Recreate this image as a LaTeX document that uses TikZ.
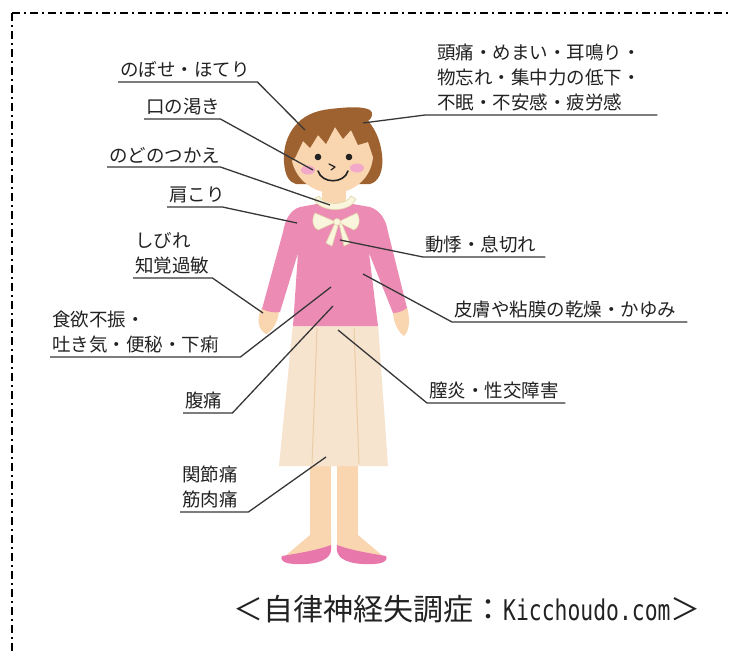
\documentclass[tikz,border=0pt]{standalone}
\usepackage{fontspec}
\setmainfont{Noto Sans CJK JP}
\newfontfamily\capmono[FakeStretch=0.75]{DejaVu Sans Mono}
\usepackage{tikz}

\definecolor{hair}{RGB}{158,98,48}
\definecolor{skin}{RGB}{250,214,176}
\definecolor{blouse}{RGB}{236,140,180}
\definecolor{cheek}{RGB}{242,168,200}
\definecolor{collar}{RGB}{250,246,222}
\definecolor{collaredge}{RGB}{226,214,170}
\definecolor{skirt}{RGB}{246,228,206}
\definecolor{pleat}{RGB}{236,204,166}
\definecolor{shoe}{RGB}{232,120,172}
\definecolor{ink}{RGB}{34,34,34}
\definecolor{leadgray}{RGB}{55,55,55}

\tikzset{
  symptom/.style={anchor=south west, inner xsep=2pt, inner ysep=4pt, align=left,
    font=\fontsize{18.5}{25}\selectfont, text=ink},
  leader/.style={draw=leadgray, line width=1.3pt},
  frame/.style={draw=black, line width=2.6pt, dash pattern=on 8pt off 4pt on 2pt off 4pt},
}

\begin{document}
\begin{tikzpicture}[x=1pt,y=-1pt]
    \fill[white] (0,0) rectangle (730,651);
    \useasboundingbox (0,0) rectangle (730,651);
    % --- FRAME ---
    \draw[frame] (12,13) -- (730,13);
    \draw[frame] (12,13) -- (12,651);

    % --- FIGURE ---
    % legs and feet
    \fill[skin] (310,462) rectangle (331,545);
    \fill[skin] (337,462) rectangle (358,545);
    \fill[skin] (310,535) -- (331,535) -- (331,548) -- (284,557) -- cycle;
    \fill[skin] (358,535) -- (337,535) -- (337,548) -- (384,557) -- cycle;
    \fill[shoe] (331,545) .. controls (333,556) and (325,563) .. (305,564)
        .. controls (288,565) and (279,562) .. (282,556)
        .. controls (300,553) and (318,550) .. (331,545) -- cycle;
    \fill[shoe] (337,545) .. controls (335,556) and (343,563) .. (363,564)
        .. controls (380,565) and (389,562) .. (386,556)
        .. controls (368,553) and (350,550) .. (337,545) -- cycle;
    % skirt
    \fill[skirt] (293,324) -- (378,324) -- (388,466) -- (279,466) -- cycle;
    \draw[pleat, line width=1pt] (317,328) -- (312,464);
    \draw[pleat, line width=1pt] (354,328) -- (359,464);
    % hands
    \fill[skin] (262,308) .. controls (256,318) and (258,330) .. (266,334)
        .. controls (272,332) and (278,322) .. (279,311) -- cycle;
    \fill[skin] (393,311) .. controls (393,322) and (398,332) .. (404,336)
        .. controls (410,330) and (410,318) .. (407,307) -- cycle;
    % back hair and neck
    \fill[hair] (330,110) .. controls (300,110) and (282,135) .. (284,162)
        .. controls (285,176) and (289,182) .. (296,184) -- (370,184)
        .. controls (378,182) and (384,172) .. (382,155)
        .. controls (380,135) and (370,118) .. (355,112) -- cycle;
    \fill[skin] (322,185) rectangle (346,210);
    % blouse
    \fill[blouse] (322,203) -- (300,207) .. controls (290,210) and (285,220) .. (283,232)
        -- (262,309) .. controls (268,312) and (275,313) .. (280,312) -- (298,253)
        -- (293,326) -- (378,326) -- (369,253) -- (393,313)
        .. controls (398,313) and (403,311) .. (407,308) -- (388,232)
        .. controls (386,220) and (381,211) .. (370,207) -- (347,203) -- cycle;
    % collar and bow
    \filldraw[fill=collar, draw=collaredge, line width=0.6pt] (314,199)
        .. controls (320,213) and (350,213) .. (356,199) -- (351,196)
        .. controls (346,206) and (324,206) .. (319,196) -- cycle;
    \filldraw[fill=collar, draw=collaredge, line width=0.6pt]
        (335,223) -- (326,243) -- (332,246) -- (338,226) -- cycle;
    \filldraw[fill=collar, draw=collaredge, line width=0.6pt]
        (339,223) -- (344,246) -- (350,243) -- (341,222) -- cycle;
    \filldraw[fill=collar, draw=collaredge, line width=0.6pt]
        (336,222) -- (315,213) .. controls (311,220) and (313,228) .. (318,230) -- cycle;
    \filldraw[fill=collar, draw=collaredge, line width=0.6pt]
        (338,222) -- (357,213) .. controls (361,220) and (359,228) .. (354,230) -- cycle;
    \filldraw[fill=collar, draw=collaredge, line width=0.6pt] (337,222) circle (3.5);
    % face
    \fill[skin] (291,150) .. controls (290,175) and (310,193) .. (333,193)
        .. controls (356,193) and (375,175) .. (373,150)
        .. controls (372,130) and (350,120) .. (332,120)
        .. controls (312,120) and (292,130) .. (291,150) -- cycle;
    \fill[cheek] (308,170) ellipse (7 and 4.5);
    \fill[cheek] (357,168) ellipse (7 and 4.5);
    \fill[ink] (318,157) circle (3.3);
    \fill[ink] (349,157) circle (3.3);
    \draw[ink, line width=1.2pt, line cap=round, line join=round]
        (329,164) -- (335,167) -- (331,170);
    \draw[ink, line width=1.6pt, line cap=round]
        (318,171) .. controls (322,184) and (344,184) .. (348,171);
    % fringe
    \fill[hair] (286,166) .. controls (284,135) and (300,112) .. (330,109)
        .. controls (348,107) and (362,106) .. (370,110)
        .. controls (374,113) and (372,118) .. (368,121)
        .. controls (378,132) and (380,150) .. (375,163)
        -- (368,142) -- (358,145) -- (351,130) -- (343,139) -- (335,127)
        -- (326,144) -- (318,135) -- (310,148) -- (303,141)
        -- (295,158) -- cycle;

    % --- POINTS ON THE BODY ---
    \coordinate (hot-pt) at (305,130);
    \coordinate (thirst-pt) at (313,170);
    \coordinate (throat-pt) at (330,205);
    \coordinate (shoulder-pt) at (297,223);
    \coordinate (numb-pt) at (263,313);
    \coordinate (appetite-pt) at (331,287);
    \coordinate (belly-pt) at (333,306);
    \coordinate (joint-pt) at (326,457);
    \coordinate (head-pt) at (363,123);
    \coordinate (palp-pt) at (340,240);
    \coordinate (dry-pt) at (363,274);
    \coordinate (vagin-pt) at (338,330);

    % --- LABELS (LEFT) ---
    \node[symptom, text width=135pt] (hot) at (118,82) {のぼせ・ほてり};
    \node[symptom, text width=72pt] (thirst) at (144,119) {口の渇き};
    \node[symptom, text width=109pt] (throat) at (107,167) {のどのつかえ};
    \node[symptom, text width=51pt] (shoulder) at (167,207) {肩こり};
    \node[symptom, text width=75pt] (numb) at (133,278) {しびれ\\知覚過敏};
    \node[symptom, text width=186pt] (appetite) at (50,357) {食欲不振・\\吐き気・便秘・下痢};
    \node[symptom, text width=45pt] (belly) at (183,413) {腹痛};
    \node[symptom, text width=64pt] (joint) at (180,512) {関節痛\\筋肉痛};

    % --- LABELS (RIGHT) ---
    \node[symptom, inner xsep=12pt, text width=208pt] (head) at (425,115)
        {頭痛・めまい・耳鳴り・\\物忘れ・集中力の低下・\\不眠・不安感・疲労感};
    \node[symptom, text width=118pt] (palp) at (423,257) {動悸・息切れ};
    \node[symptom, text width=231pt] (dry) at (452,322) {皮膚や粘膜の乾燥・かゆみ};
    \node[symptom, text width=134pt] (vagin) at (427,403) {膣炎・性交障害};

    % --- LEADERS ---
    \foreach \s in {hot,thirst,throat,shoulder,numb,appetite,belly,joint}
        \draw[leader] (\s.south west) -- (\s.south east) -- (\s-pt);
    \foreach \s in {head,palp,dry,vagin}
        \draw[leader] (\s-pt) -- (\s.south west) -- (\s.south east);

    % --- CAPTION ---
    \node[anchor=base west, inner sep=0pt, text=ink] (caption) at (233,620)
        {\fontsize{30}{30}\selectfont ＜自律神経失調症：{\capmono\fontsize{28.5}{30}\selectfont Kicchoudo.com}＞};
\end{tikzpicture}
\end{document}
